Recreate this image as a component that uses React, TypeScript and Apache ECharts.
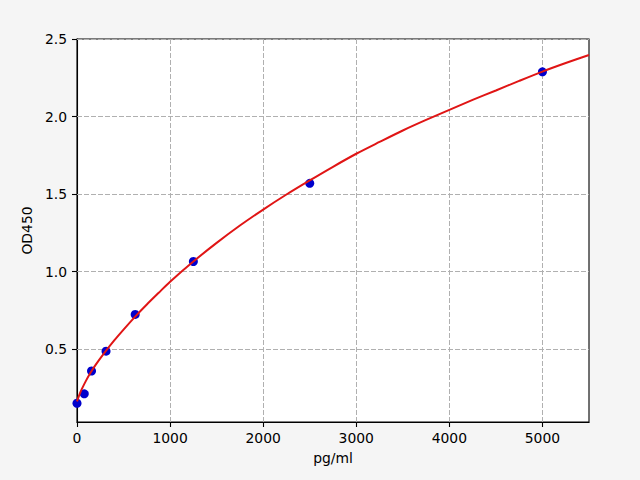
import React, { useEffect, useRef } from "react";
import * as echarts from "echarts";

const pointX = [0, 78, 156, 312, 625, 1250, 2500, 5000];
const pointY = [0.151, 0.212, 0.359, 0.487, 0.724, 1.065, 1.569, 2.288];

const curveX = [0, 25, 50, 100, 150, 200, 300, 400, 500, 625, 750, 875, 1000, 1250, 1500, 1750, 2000, 2250, 2500, 2750, 3000, 3250, 3500, 3750, 4000, 4250, 4500, 4750, 5000, 5250, 5500];
const curveY = [0.163, 0.205, 0.24, 0.3, 0.352, 0.398, 0.48, 0.556, 0.626, 0.71, 0.788, 0.862, 0.935, 1.065, 1.185, 1.297, 1.4, 1.497, 1.588, 1.676, 1.76, 1.836, 1.91, 1.978, 2.043, 2.107, 2.168, 2.23, 2.29, 2.345, 2.397];

const xTicks = [0, 1000, 2000, 3000, 4000, 5000];
const yTicks = [0.5, 1.0, 1.5, 2.0, 2.5];
const xTickInterval = 1000;

export default function App() {
  const ref = useRef<HTMLDivElement>(null);
  useEffect(() => {
    document.body.style.margin = "0";
    const chart = echarts.init(ref.current!, undefined, { renderer: "svg" });
    const font = "DejaVu Sans";
    const gridLine = { color: "#b0b0b0", width: 1, type: [5, 2] as any };
    chart.setOption({
      animation: false,
      backgroundColor: "#f5f5f5",
      textStyle: { fontFamily: font },
      grid: {
        left: 77,
        right: 51,
        top: 39,
        bottom: 58,
        show: true,
        backgroundColor: "#ffffff",
        borderColor: "#000000",
        borderWidth: 1.1,
      },
      xAxis: {
        type: "value",
        min: 0,
        max: 5500,
        interval: xTickInterval,
        name: "pg/ml",
        nameLocation: "middle",
        nameGap: 29,
        nameTextStyle: { fontFamily: font, fontSize: 13.9, color: "#000" },
        axisLine: { show: true, lineStyle: { color: "#000", width: 1.1 } },
        axisTick: {
          show: true,
          length: 5,
          customValues: xTicks,
          lineStyle: { color: "#000", width: 1.1 },
        },
        axisLabel: {
          margin: 9,
          fontFamily: font,
          fontSize: 13.9,
          color: "#000",
          customValues: xTicks,
          formatter: (v: number) => String(v),
        },
        splitLine: { show: true, lineStyle: gridLine },
      },
      yAxis: {
        type: "value",
        min: 0.03,
        max: 2.5,
        name: "OD450",
        nameLocation: "middle",
        nameGap: 36,
        nameRotate: 90,
        nameTextStyle: { fontFamily: font, fontSize: 13.9, color: "#000" },
        axisLine: { show: true, lineStyle: { color: "#000", width: 1.1 } },
        axisTick: {
          show: true,
          length: 5,
          customValues: yTicks,
          lineStyle: { color: "#000", width: 1.1 },
        },
        axisLabel: {
          margin: 10,
          fontFamily: font,
          fontSize: 13.9,
          color: "#000",
          customValues: yTicks,
          formatter: (v: number) => v.toFixed(1),
        },
        splitLine: { show: false },
      },
      series: [
        {
          type: "scatter",
          data: pointX.map((x, i) => [x, pointY[i]]),
          symbolSize: 9,
          itemStyle: { color: "#0000cc", opacity: 1 },
          z: 3,
          markLine: {
            silent: true,
            symbol: "none",
            label: { show: false },
            lineStyle: gridLine,
            data: yTicks.map((v) => ({ yAxis: v })),
            z: 1,
          },
        },
        {
          type: "line",
          data: curveX.map((x, i) => [x, curveY[i]]),
          smooth: 0.3,
          showSymbol: false,
          lineStyle: { color: "#e01515", width: 2 },
          z: 4,
        },
      ],
    });
    return () => chart.dispose();
  }, []);
  return (
    <div
      ref={ref}
      style={{ position: "absolute", left: 0, top: 0, width: 640, height: 480 }}
    />
  );
}
